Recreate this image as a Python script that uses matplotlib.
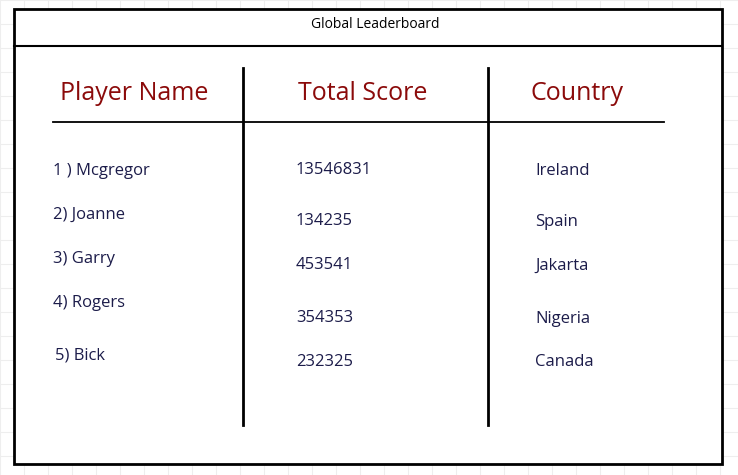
import matplotlib.pyplot as plt

plt.rcParams['font.family'] = ['Open Sans', 'DejaVu Sans']

title = 'Global Leaderboard'
headers = ['Player Name', 'Total Score', 'Country']
players = ['1 ) Mcgregor', '2) Joanne', '3) Garry', '4) Rogers', '5) Bick']
scores = ['13546831', '134235', '453541', '354353', '232325']
countries = ['Ireland', 'Spain', 'Jakarta', 'Nigeria', 'Canada']

# hand-drawn look: rows are not aligned across columns
player_y = [171, 215, 259, 303, 355]
score_y = [170, 221, 265, 318, 362]
country_y = [171, 222, 266, 319, 362]
player_x = [53, 53, 53, 53, 55]

W, H = 738, 475
fig = plt.figure(figsize=(W / 100, H / 100), dpi=100)
ax = fig.add_axes([0, 0, 1, 1])
ax.set_xlim(0, W)
ax.set_ylim(H, 0)
ax.axis('off')

# faint background grid
for g in range(0, W, 24):
    ax.axvline(g, color='#eeeeee', lw=0.8, zorder=0)
for g in range(0, H, 24):
    ax.axhline(g, color='#eeeeee', lw=0.8, zorder=0)

ax.add_patch(plt.Rectangle((14, 9), 708, 455, facecolor='white',
                           edgecolor='black', lw=2, zorder=1))
ax.plot([14, 722], [46, 46], color='black', lw=1.5, zorder=2)
ax.text(375, 25, title, ha='center', va='center', fontsize=10, color='black')

ax.plot([53, 664], [122, 122], color='black', lw=1.3)
ax.plot([243, 243], [68, 425], color='black', lw=2)
ax.plot([488, 488], [68, 425], color='black', lw=2)

red = '#8b0a0a'
ax.text(60, 93, headers[0], ha='left', va='center', fontsize=18, color=red)
ax.text(363, 93, headers[1], ha='center', va='center', fontsize=18, color=red)
ax.text(577, 93, headers[2], ha='center', va='center', fontsize=18, color=red)

navy = '#1c1c4a'
for name, x, y in zip(players, player_x, player_y):
    ax.text(x, y, name, ha='left', va='center', fontsize=12, color=navy)
for s, y in zip(scores, score_y):
    ax.text(296, y, s, ha='left', va='center', fontsize=12, color=navy)
for c, y in zip(countries, country_y):
    ax.text(535, y, c, ha='left', va='center', fontsize=12, color=navy)

fig.savefig('out.png', dpi=100)
